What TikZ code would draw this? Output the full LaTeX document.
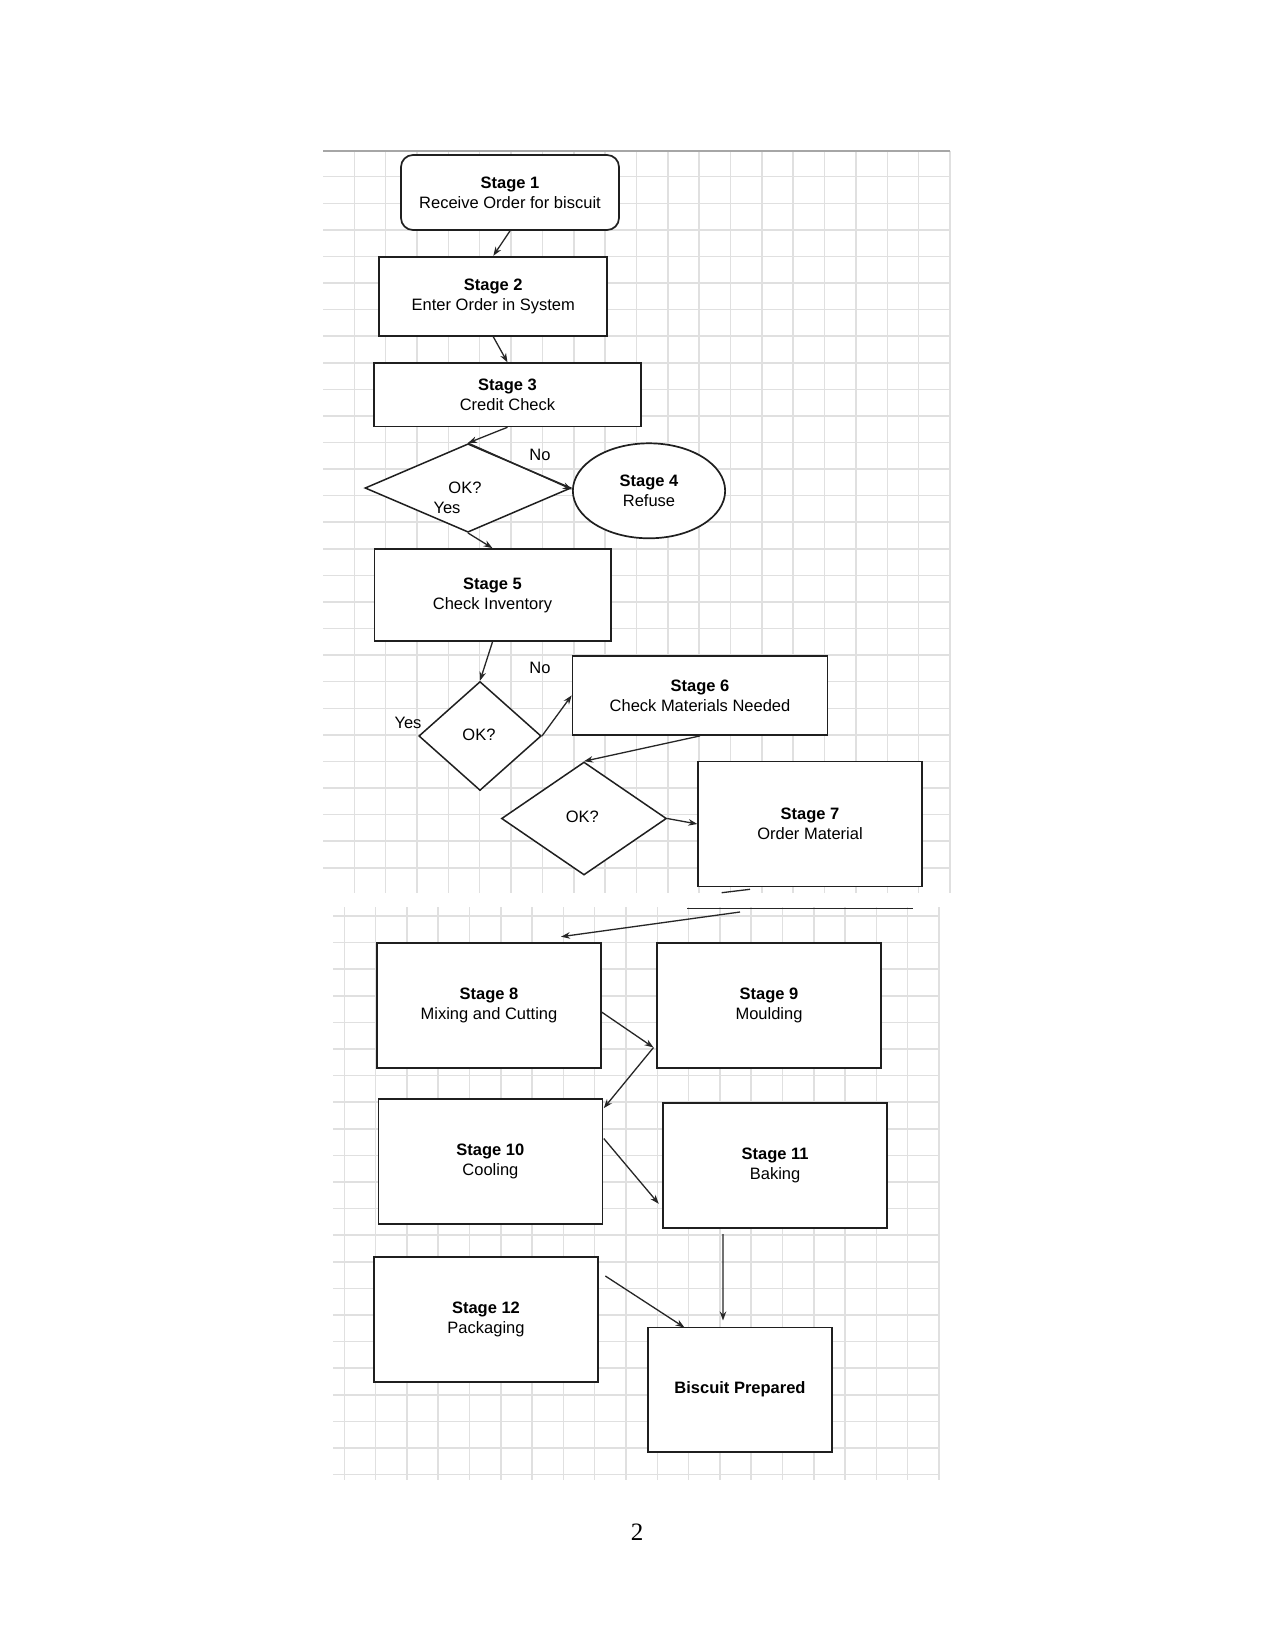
\documentclass[tikz,border=0pt]{standalone}
\usepackage{fontspec}
\setmainfont{Liberation Sans}
\newfontfamily\pagefont{Liberation Serif}
\usetikzlibrary{shapes.geometric,arrows.meta,calc}
\begin{document}
\begin{tikzpicture}[x=1pt,y=-1pt,
  gridline/.style={draw=black!12,line width=1.5pt},
  box/.style={draw=black!88,line width=1.7pt,fill=white,inner sep=0pt,align=center,
    font=\fontsize{16.5}{20}\selectfont},
  rbox/.style={box,rounded corners=12pt},
  oval/.style={box,ellipse},
  dia/.style={draw=black!88,line width=1.5pt,fill=white,diamond,inner sep=0pt},
  lbl/.style={inner sep=0pt,font=\fontsize{16.5}{18}\selectfont},
  arr/.style={draw=black!85,line width=1.3pt,-{Stealth[length=9pt,width=6.5pt]}},
  plain/.style={draw=black!85,line width=1.3pt}]
\useasboundingbox[fill=white] (0,0) rectangle (1275,1651);
% ---- top grid ----
\foreach \k in {0,...,19} {\draw[gridline] (354.3+31.35*\k,151) -- (354.3+31.35*\k,892.7);}
\foreach \k in {0,...,26} {\draw[gridline] (323,176.7+26.58*\k) -- (950,176.7+26.58*\k);}
\draw[draw=black!35,line width=1.6pt] (323,151) -- (950,151);
% ---- bottom grid ----
\foreach \k in {0,...,19} {\draw[gridline] (344.3+31.3*\k,907.3) -- (344.3+31.3*\k,1480);}
\foreach \k in {0,...,21} {\draw[gridline] (333.3,916+26.6*\k) -- (940,916+26.6*\k);}

% ---- nodes ----
\node[rbox,minimum width=218pt,minimum height=75pt] (s1) at (510,192.5) {\textbf{Stage 1}\\Receive Order for biscuit};
\node[box,minimum width=228pt,minimum height=79.3pt] (s2) at (493.3,296.3) {\textbf{Stage 2}\\Enter Order in System};
\node[box,minimum width=267.5pt,minimum height=63.2pt] (s3) at (507.5,394.8) {\textbf{Stage 3}\\Credit Check};
\node[dia,minimum width=206pt,minimum height=88.5pt] (d1) at (468,488) {};
\node[oval,minimum width=152.3pt,minimum height=95pt] (s4) at (649,490.8) {\textbf{Stage 4}\\Refuse};
\node[box,minimum width=236.3pt,minimum height=92pt] (s5) at (492.5,595) {\textbf{Stage 5}\\Check Inventory};
\node[dia,minimum width=122.4pt,minimum height=109pt] (d2) at (480,736) {};
\node[box,minimum width=255pt,minimum height=79.3pt] (s6) at (700,695.4) {\textbf{Stage 6}\\Check Materials Needed};
\node[dia,minimum width=165pt,minimum height=113pt] (d3) at (584,818.5) {};
\node[box,minimum width=223.6pt,minimum height=125pt] (s7) at (810,824) {\textbf{Stage 7}\\Order Material};
\node[box,minimum width=224pt,minimum height=125pt] (s8) at (489,1005.2) {\textbf{Stage 8}\\Mixing and Cutting};
\node[box,minimum width=223.7pt,minimum height=125pt] (s9) at (769,1005.2) {\textbf{Stage 9}\\Moulding};
\node[box,minimum width=224pt,minimum height=125pt] (s10) at (490.4,1161.5) {\textbf{Stage 10}\\Cooling};
\node[box,minimum width=224.4pt,minimum height=125pt] (s11) at (775.1,1165.8) {\textbf{Stage 11}\\Baking};
\node[box,minimum width=224pt,minimum height=125.3pt] (s12) at (486,1319.3) {\textbf{Stage 12}\\Packaging};
\node[box,minimum width=184.4pt,minimum height=124.7pt] (bp) at (740,1389.7) {\textbf{Biscuit Prepared}};

% ---- labels ----
\node[lbl] (ok1) at (465,488) {OK?};
\node[lbl] (yes1) at (447,508) {Yes};
\node[lbl] (no1) at (540,455) {No};
\node[lbl] (ok2) at (479,735) {OK?};
\node[lbl] (yes2) at (408,722.7) {Yes};
\node[lbl] (no2) at (540,667.7) {No};
\node[lbl] (ok3) at (582.4,816.7) {OK?};
\node[inner sep=0pt,font=\pagefont\fontsize{25}{25}\selectfont] (pg) at (637,1532) {2};

% ---- free coordinates ----
\coordinate (b1) at (750,889.3);
\coordinate (b2) at (721.7,892.7);
\coordinate (h1) at (687,908.3);
\coordinate (h2) at (913,908.3);
\coordinate (b3) at (740,912);
\coordinate (a8) at (561,936.7);
\coordinate (j9) at (653.5,1047.5);

% ---- connectors ----
\draw[arr] (s1.south) -- (s2.north);
\draw[arr] (s2.south) -- (s3.north);
\draw[arr] (s3.south) -- (d1.north);
\draw[arr] (d1.north) -- ($(d1.east)!0.5!(s4.west)$);
\draw[arr] (d1.south) -- (s5.north);
\draw[arr] (s5.south) -- (d2.north);
\draw[arr] (d2.east) -- (s6.west);
\draw[arr] (s6.south) -- (d3.north);
\draw[arr] (d3.east) -- (s7.west);
\draw[plain] (b1) -- (b2);
\draw[plain] (h1) -- (h2);
\draw[arr] (b3) -- (a8);
\draw[arr] ($(s8.east)+(0,7)$) -- (j9);
\draw[arr] (j9) -- ($(s10.north east)+(0.5,10)$);
\draw[arr] ($(s10.east)+(0.5,-23)$) -- ($(s11.west)+(-3.3,38)$);
\draw[arr] ($(s11.south)+(-52.2,5)$) -- ($(bp.north)+(-17,-6)$);
\draw[arr] ($(s12.east)+(6.5,-43.3)$) -- ($(bp.north)+(-55.5,1)$);
\end{tikzpicture}
\end{document}
